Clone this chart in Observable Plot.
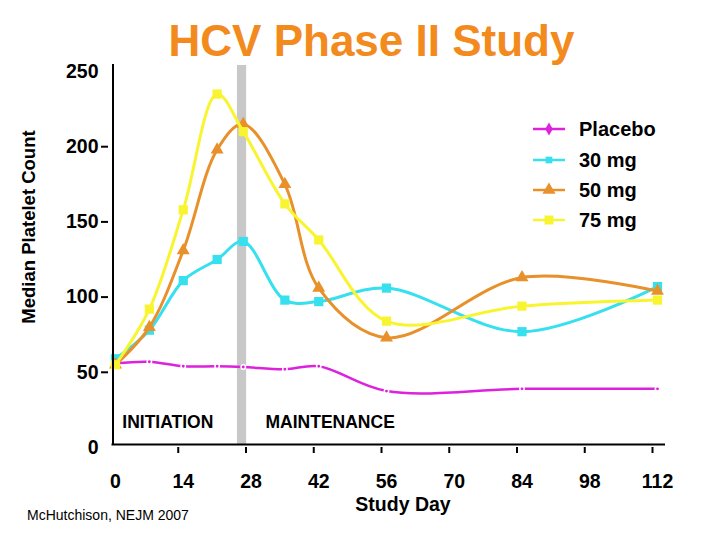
<!DOCTYPE html>
<html>
<head>
<meta charset="utf-8">
<script src="https://cdn.jsdelivr.net/npm/d3@7"></script>
<script src="https://cdn.jsdelivr.net/npm/@observablehq/plot@0.6"></script>
<style>
  html, body { margin: 0; padding: 0; background: #fff; }
  #wrap { position: relative; width: 720px; height: 540px; overflow: hidden; font-family: "Liberation Sans", Arial, sans-serif; color: #000; }
  #chart { position: absolute; left: 0; top: 0; }
  .abs { position: absolute; white-space: nowrap; }
  #title { left: 0; width: 743px; text-align: center; top: 19px; font-size: 44px; line-height: 44px; font-weight: bold; color: #F28A1E; }
  #ylab { left: -121px; width: 300px; top: 217px; text-align: center; font-size: 18.5px; line-height: 20px; font-weight: bold; transform: rotate(-90deg); transform-origin: 150px 10px; }
  #xlab { left: 303px; width: 200px; text-align: center; top: 498px; font-size: 19.5px; line-height: 12px; font-weight: bold; }
  #caption { left: 27px; top: 508px; font-size: 14px; line-height: 14px; }
  .leg { position: absolute; left: 531px; height: 20px; line-height: 20px; font-size: 20px; font-weight: bold; display: flex; align-items: center; }
  .leg svg { width: 36px; height: 20px; margin-right: 12px; }
</style>
</head>
<body>
<div id="wrap">
  <div id="chart"></div>
  <div id="title" class="abs">HCV Phase II Study</div>
  <div id="ylab" class="abs">Median Platelet Count</div>
  <div id="xlab" class="abs">Study Day</div>
  <div id="caption" class="abs">McHutchison, NEJM 2007</div>
  <div id="legend"></div>
</div>
<script>
// ---- data ----
const days = [0, 7, 14, 21, 26.4, 35, 42, 56, 84, 112];
const seriesNames = ["Placebo", "30 mg", "50 mg", "75 mg"];
const placebo = [56, 57, 54, 54, 53.5, 52, 54, 37.5, 39, 39];
const mg30 = [59, 78, 111, 125, 137, 98, 97, 106, 77, 107];
const mg50 = [55, 80, 131, 198, 215, 175, 106, 73, 113, 104];
const mg75 = [55, 92, 158, 235, 210, 162, 138, 84, 94, 98];
const seriesColors = ["#DC22DC", "#36E0EE", "#E8902A", "#F8F530"];
const seriesSymbols = ["diamond", "square", "triangle", "square"];
const xTicks = [0, 14, 28, 42, 56, 70, 84, 98, 112];
const yTicks = [0, 50, 100, 150, 200, 250];
const yTickMarks = [50, 100, 150, 200];
const xTickMarks = [14, 28, 42, 56, 70, 84, 98, 112];
const phaseBar = [{start: 25.2, end: 27.1, low: 2, high: 254}];
const phaseLabels = [
  {day: 1.4, value: 16.5, label: "INITIATION"},
  {day: 31, value: 16.5, label: "MAINTENANCE"}
];

const allValues = [placebo, mg30, mg50, mg75];
const rowsBySeries = seriesNames.map((name, s) =>
  days.map((d, i) => ({series: name, day: d, value: allValues[s][i]})));

const seriesMarks = [];
rowsBySeries.forEach((rows, s) => {
  seriesMarks.push(Plot.line(rows, {x: "day", y: "value", stroke: seriesColors[s], strokeWidth: s === 0 ? 2.5 : 3, curve: "catmull-rom"}));
  if (s === 0) {
    seriesMarks.push(Plot.dot(rows, {x: "day", y: "value", r: 2.2, fill: seriesColors[s], stroke: "white", strokeWidth: 1.5}));
  } else {
    seriesMarks.push(Plot.dot(rows, {x: "day", y: "value", symbol: () => seriesSymbols[s], r: s === 2 ? 4.8 : 5.2, fill: seriesColors[s], stroke: "none"}));
  }
});

const chart = Plot.plot({
  width: 720,
  height: 540,
  marginLeft: 115,
  marginRight: 63,
  marginTop: 71,
  marginBottom: 93,
  x: {domain: [0, 112]},
  y: {domain: [0, 250]},
  style: {fontFamily: '"Liberation Sans", Arial, sans-serif', background: "transparent", color: "#000", overflow: "visible"},
  marks: [
    Plot.rect(phaseBar, {x1: "start", x2: "end", y1: "low", y2: "high", fill: "#C8C8C8"}),
    Plot.axisY({ticks: yTicks, tickSize: 0, tickPadding: 17, fontSize: 19.5, fontWeight: "bold", label: null}),
    Plot.axisY({ticks: yTickMarks, tickSize: 7, dx: -7, strokeWidth: 2, tickFormat: () => "", label: null}),
    Plot.axisX({ticks: xTickMarks, tickSize: 6, dx: -5, strokeWidth: 2, tickFormat: () => "", label: null}),
    Plot.axisX({ticks: xTicks, tickSize: 0, tickPadding: 26.5, fontSize: 19.5, fontWeight: "bold", label: null}),
    Plot.text(phaseLabels, {x: "day", y: "value", text: "label", textAnchor: "start", lineAnchor: "middle", fontSize: 17.5, fontWeight: "bold", fill: "#000"}),
    ...seriesMarks,
    Plot.ruleX([0], {stroke: "#000", strokeWidth: 2, dx: -2.5, insetTop: -7, insetBottom: 3}),
    Plot.ruleY([0], {stroke: "#000", strokeWidth: 2, dy: -3, insetLeft: -3.5, insetRight: -8})
  ]
});
document.getElementById("chart").appendChild(chart);

// ---- legend ----
const legendTops = [119, 150, 180, 210];
const legend = document.getElementById("legend");
seriesNames.forEach((name, s) => {
  const row = document.createElement("div");
  row.className = "leg";
  row.style.top = legendTops[s] + "px";
  const sym = d3.symbol(
    {diamond: d3.symbolDiamond, square: d3.symbolSquare, triangle: d3.symbolTriangle}[seriesSymbols[s]],
    [50, 45, 75, 80][s])();
  row.innerHTML = `<svg viewBox="0 0 36 20"><line x1="2" x2="34" y1="10" y2="10" stroke="${seriesColors[s]}" stroke-width="2.5"/><path transform="translate(18,10)" d="${sym}" fill="${seriesColors[s]}"/></svg><span>${name}</span>`;
  legend.appendChild(row);
});
</script>
</body>
</html>
